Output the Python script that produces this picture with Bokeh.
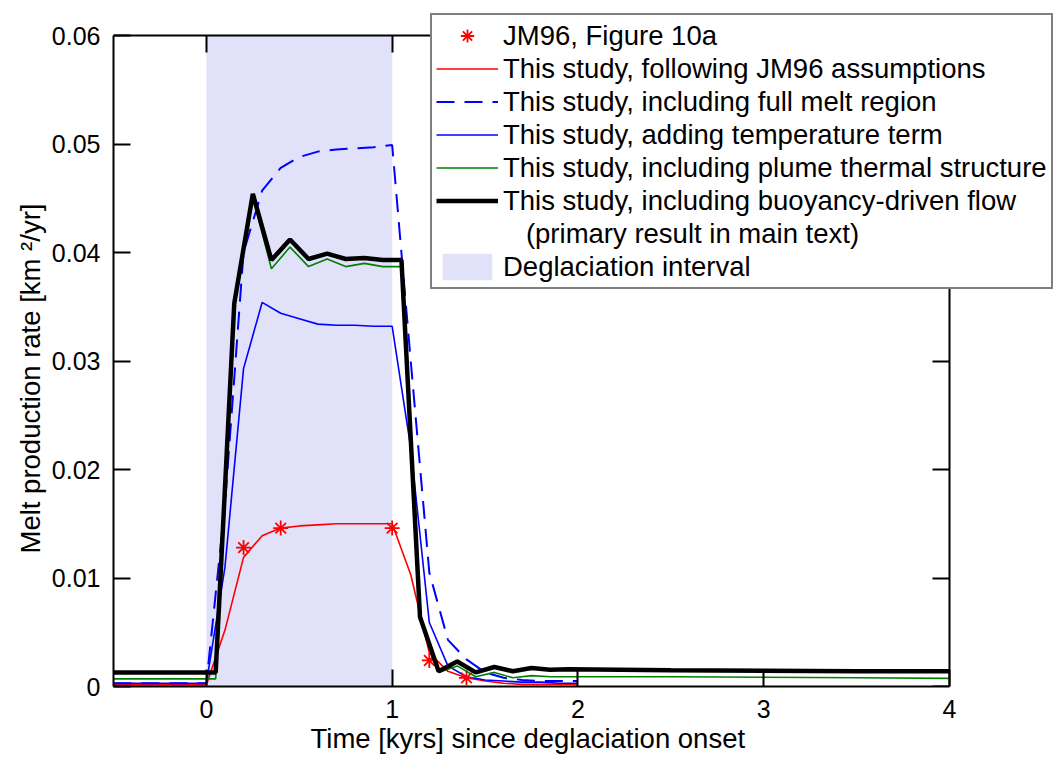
from bokeh.plotting import figure
from bokeh.models import Range1d, LinearAxis, FixedTicker, Legend, LegendItem, Title
from bokeh.embed import file_html
from bokeh.resources import INLINE

FONT = "Liberation Sans"

# ---------------- data ----------------
# time grid (kyr) for the JM96-style, full-melt and temperature-term runs
t_a = [-0.5, 0.0, 0.1, 0.2, 0.3, 0.4, 0.5, 0.6, 0.7, 0.8, 0.9, 1.0,
       1.1, 1.2, 1.3, 1.4, 1.5, 1.6, 1.7, 1.8, 1.9, 2.0]
red_vals = [0.00015, 0.00015, 0.0052, 0.0119, 0.0139, 0.0146, 0.0148, 0.0149,
            0.0150, 0.0150, 0.0150, 0.0150, 0.0103, 0.0031, 0.0014, 0.0008,
            0.0005, 0.0003, 0.0002, 0.0002, 0.0002, 0.0002]
dashed_vals = [0.0003, 0.0003, 0.0168, 0.0400, 0.0457, 0.0478, 0.0488, 0.0493,
               0.0495, 0.0496, 0.0497, 0.0499, 0.0300, 0.0105, 0.0043, 0.0025,
               0.0013, 0.0008, 0.0006, 0.0005, 0.0005, 0.0005]
blue_vals = [0.0003, 0.0003, 0.0110, 0.0293, 0.0354, 0.0344, 0.0339, 0.0334,
             0.0333, 0.0333, 0.0332, 0.0332, 0.0220, 0.0059, 0.0019, 0.0009,
             0.0006, 0.0005, 0.0004, 0.0004, 0.0003, 0.0003]

# time grid (kyr) for plume-structure and buoyancy-driven runs
t_b = [-0.5, 0.05, 0.15, 0.25, 0.35, 0.45, 0.55, 0.65, 0.75, 0.85, 0.95, 1.05,
       1.15, 1.25, 1.35, 1.45, 1.55, 1.65, 1.75, 1.85, 1.95, 2.5, 3.0, 3.5, 4.0]
green_vals = [0.0007, 0.0007, 0.0352, 0.0451, 0.0385, 0.0405, 0.0387, 0.0394,
              0.0387, 0.0390, 0.0387, 0.0387, 0.0062, 0.0013, 0.0019, 0.0009,
              0.0013, 0.0008, 0.0010, 0.0009, 0.0009, 0.0009, 0.00085, 0.0008,
              0.00075]
black_vals = [0.0013, 0.0013, 0.0353, 0.0454, 0.0393, 0.0412, 0.0394, 0.0399,
              0.0394, 0.0395, 0.0393, 0.0393, 0.0064, 0.0014, 0.0023, 0.0013,
              0.0018, 0.0014, 0.0017, 0.00155, 0.0016, 0.0015, 0.00145, 0.0014,
              0.0014]

# JM96 Figure 10a points
jm96_t = [0.2, 0.4, 1.0, 1.2, 1.4]
jm96_vals = [0.0128, 0.0146, 0.0146, 0.0024, 0.0008]

deglac_start = [0.0]
deglac_end = [1.0]

x_min, x_max = -0.5, 4.0
y_min, y_max = 0.0, 0.06
x_ticks = [0, 1, 2, 3, 4]
y_ticks = [0, 0.01, 0.02, 0.03, 0.04, 0.05, 0.06]
y_tick_labels = ["0", "0.01", "0.02", "0.03", "0.04", "0.05", "0.06"]

x_label = "Time [kyrs] since deglaciation onset"
y_label = "Melt production rate [km \u00b2/yr]"
labels = [
    "JM96, Figure 10a",
    "This study, following JM96 assumptions",
    "This study, including full melt region",
    "This study, adding temperature term",
    "This study, including plume thermal structure",
    "This study, including buoyancy-driven flow",
    "\u00a0\u00a0\u00a0(primary result in main text)",
    "Deglaciation interval",
]

# ---------------- layout ----------------
W, H = 1060, 764
BOX_L, BOX_R, BOX_T, BOX_B = 113, 949, 35, 686   # axes box in pixels
# the frame reaches the right and top edges of the page so the legend,
# which sits over the box corner, is not clipped; the box is drawn by axes
px_x = (BOX_R - BOX_L) / (x_max - x_min)
px_y = (BOX_B - BOX_T) / (y_max - y_min)
x_end = x_max + (W - BOX_R) / px_x
y_end = y_max + BOX_T / px_y

p = figure(width=W, height=H,
           x_range=Range1d(x_min, x_end), y_range=Range1d(y_min, y_end),
           output_backend="svg", toolbar_location=None,
           min_border_left=BOX_L, min_border_right=0,
           min_border_top=0, min_border_bottom=H - BOX_B)
p.grid.visible = False
p.outline_line_color = None
p.background_fill_color = "white"
p.border_fill_color = "white"

r_quad = p.quad(left=deglac_start, right=deglac_end, bottom=[y_min], top=[y_max],
                fill_color="#E1E1FA", line_color=None)
r_red = p.line(t_a, red_vals, line_color="#FF0000", line_width=1.6)
r_dash = p.line(t_a, dashed_vals, line_color="#0000FF", line_width=2,
                line_dash="18 10")
r_blue = p.line(t_a, blue_vals, line_color="#0000FF", line_width=1.6)
r_star = p.scatter(jm96_t, jm96_vals, marker="asterisk", size=15,
                   line_color="#FF0000", line_width=1.8)
r_green = p.line(t_b, green_vals, line_color="#008000", line_width=1.6)
r_black = p.line(t_b, black_vals, line_color="black", line_width=4.5)
r_blank = p.line(x=[], y=[], line_alpha=0)


def style_axis(ax, ticks, show_labels, tick_in, tick_out):
    ax.ticker = FixedTicker(ticks=ticks)
    ax.major_tick_in = tick_in
    ax.major_tick_out = tick_out
    ax.minor_tick_in = 0
    ax.minor_tick_out = 0
    ax.axis_line_width = 2
    ax.axis_line_color = "black"
    ax.major_tick_line_width = 2
    ax.major_tick_line_color = "black"
    if show_labels:
        ax.major_label_text_font = FONT
        ax.major_label_text_font_size = "25px"
        ax.major_label_text_color = "black"
        ax.major_label_standoff = 13
    else:
        ax.major_label_text_font_size = "1px"
        ax.major_label_text_color = None
        ax.major_label_standoff = 0


xa = p.xaxis[0]
ya = p.yaxis[0]
style_axis(xa, x_ticks, True, 17, 0)
style_axis(ya, y_ticks, True, 17, 0)
xa.bounds = (x_min, x_max)
ya.bounds = (y_min, y_max)
ya.major_label_overrides = {t: s for t, s in zip(y_ticks, y_tick_labels)}

# top edge of the box: an axis fixed at y_max with ticks pointing down
top_ax = LinearAxis(fixed_location=y_max, bounds=(x_min, x_max))
style_axis(top_ax, x_ticks, False, 0, 17)
p.add_layout(top_ax, "below")
# right edge of the box: an axis fixed at x_max with ticks pointing left
right_ax = LinearAxis(fixed_location=x_max, bounds=(y_min, y_max))
style_axis(right_ax, y_ticks, False, 0, 17)
p.add_layout(right_ax, "left")

# axis titles, placed on the box rather than on the wider frame
x_title = Title(text=x_label, align="left", offset=197,
                standoff=0, text_font=FONT, text_font_size="27.5px",
                text_font_style="normal", text_color="black")
p.add_layout(x_title, "below")
y_title = Title(text=y_label, align="left", offset=133,
                standoff=6, text_font=FONT, text_font_size="27.5px",
                text_font_style="normal", text_color="black")
p.add_layout(y_title, "left")

renderers = [r_star, r_red, r_dash, r_blue, r_green, r_black, r_blank, r_quad]
items = [LegendItem(label=lab, renderers=[r]) for lab, r in zip(labels, renderers)]
legend = Legend(items=items, location=(430 - BOX_L, BOX_B - 289),
                label_text_font=FONT, label_text_font_size="27.5px",
                label_text_color="black",
                glyph_width=62, glyph_height=33, label_height=33,
                label_standoff=5, spacing=0, padding=4, margin=0,
                border_line_color="black", border_line_width=2,
                background_fill_color="white", background_fill_alpha=1.0)
p.add_layout(legend)

open("out.html", "w").write(file_html(p, INLINE))
